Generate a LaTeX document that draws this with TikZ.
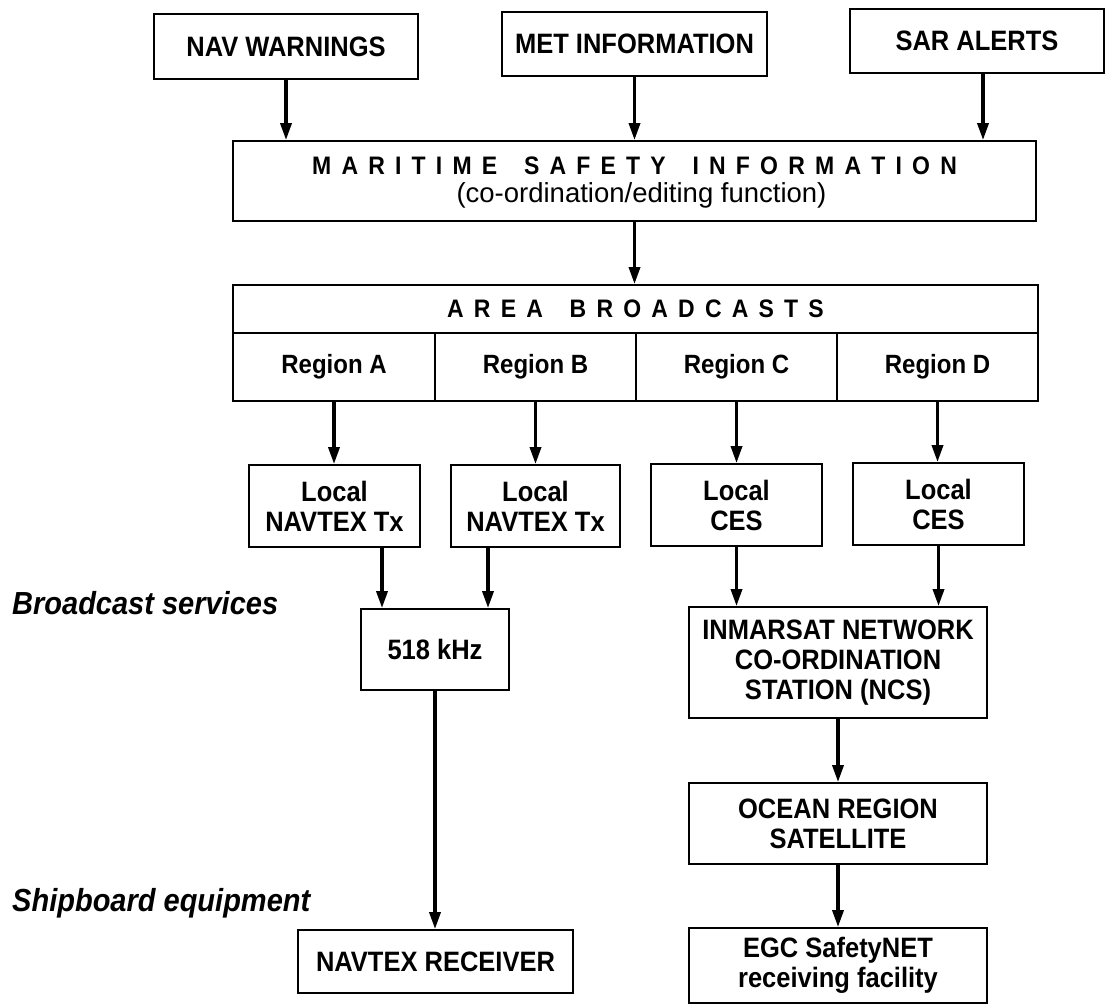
\documentclass[tikz,border=0pt]{standalone}
\usepackage{fontspec}
\usepackage{graphicx}
\setmainfont{Liberation Sans}
\usetikzlibrary{arrows.meta}

% letter-spaced titles: a fixed kern after every token
\ExplSyntaxOn
\NewDocumentCommand\spreadout{m}{\tl_map_inline:nn{#1}{##1\kern10.2pt}\unkern}
\ExplSyntaxOff

% slightly tall lettering
\newcommand\tx[1]{\scalebox{1}[1.1]{#1}}

\newcommand\boxfont{\fontsize{25.5}{30}\selectfont\bfseries}
\newcommand\regfont{\fontsize{24}{29}\selectfont\bfseries}
\newcommand\titlefont{\fontsize{23}{27}\selectfont\bfseries}
\newcommand\subfont{\fontsize{27.5}{31}\selectfont}
\newcommand\labfont{\fontsize{29}{34}\selectfont\bfseries\itshape}

\begin{document}
\begin{tikzpicture}[x=1pt,y=-1pt,
  box/.style={draw, line width=1.8pt, inner sep=0pt, align=center, font=\boxfont},
  arr/.style={line width=3.4pt, -{Triangle[length=17pt,width=11pt]}},
  sidelabel/.style={anchor=west, inner sep=0pt, font=\labfont}]
\useasboundingbox (0,0) rectangle (1107,1005);

% sources
\node[box, minimum width=264pt, minimum height=65pt] (nav) at (286,46.5) {\tx{NAV WARNINGS}};
\node[box, minimum width=265pt, minimum height=64pt] (met) at (634.5,44) {\tx{MET INFORMATION}};
\node[box, minimum width=254pt, minimum height=64pt] (sar) at (977,41) {\tx{SAR ALERTS}};

% co-ordination
\node[box, minimum width=803pt, minimum height=80pt] (msi) at (634.5,181) {};
\node[inner sep=0pt, font=\titlefont] (msititle) at ([yshift=15pt]msi.center)
  {\tx{\spreadout{MARITIME\ SAFETY\ INFORMATION}}};
\node[inner sep=0pt, font=\subfont] (msisub) at ([xshift=7pt,yshift=-14pt]msi.center)
  {(co-ordination/editing function)};

% area broadcasts and regions
\node[box, minimum width=805pt, minimum height=48pt, font=\titlefont] (ab) at (635.5,309)
  {\tx{\spreadout{AREA\ BROADCASTS}}};
\node[box, minimum width=202pt, minimum height=68pt, font=\regfont] (rega) at (334,367) {\tx{Region A}};
\node[box, minimum width=201pt, minimum height=68pt, font=\regfont] (regb) at (535.5,367) {\tx{Region B}};
\node[box, minimum width=201pt, minimum height=68pt, font=\regfont] (regc) at (736.5,367) {\tx{Region C}};
\node[box, minimum width=201pt, minimum height=68pt, font=\regfont] (regd) at (937.5,367) {\tx{Region D}};

% local stations
\node[box, minimum width=171pt, minimum height=82pt] (loca) at (334.5,506) {\tx{Local}\\\tx{NAVTEX Tx}};
\node[box, minimum width=169pt, minimum height=82pt] (locb) at (535.5,506) {\tx{Local}\\\tx{NAVTEX Tx}};
\node[box, minimum width=171pt, minimum height=82pt] (locc) at (736.5,505) {\tx{Local}\\\tx{CES}};
\node[box, minimum width=171pt, minimum height=82pt] (locd) at (938.5,504) {\tx{Local}\\\tx{CES}};

% broadcast paths
\node[box, minimum width=148pt, minimum height=81pt] (khz) at (435,649.5) {\tx{518 kHz}};
\node[box, minimum width=298pt, minimum height=111pt] (ncs) at (838,662.5)
  {\tx{INMARSAT NETWORK}\\\tx{CO-ORDINATION}\\\tx{STATION (NCS)}};
\node[box, minimum width=298pt, minimum height=81pt] (ocean) at (838,823.5)
  {\tx{OCEAN REGION}\\\tx{SATELLITE}};

% shipboard equipment
\node[box, minimum width=275pt, minimum height=63pt] (rx) at (435.5,961.5) {\tx{NAVTEX RECEIVER}};
\node[box, minimum width=298pt, minimum height=75pt] (egc) at (838,965.5)
  {\tx{EGC SafetyNET}\\\tx{receiving facility}};

% side labels
\node[sidelabel] (bcast) at (12,603) {\tx{Broadcast services}};
\node[sidelabel] (ship) at (12,903) {\tx{Shipboard equipment}};

% connectors
\draw[arr] (nav.south) -- (nav.south |- msi.north);
\draw[arr] (met.south) -- (met.south |- msi.north);
\draw[arr] ([xshift=6pt]sar.south) -- ([xshift=6pt]sar.south |- msi.north);
\draw[arr] (msi.south) -- (msi.south |- ab.north);
\draw[arr] (rega.south) -- (rega.south |- loca.north);
\draw[arr] (regb.south) -- (regb.south |- locb.north);
\draw[arr] (regc.south) -- (regc.south |- locc.north);
\draw[arr] (regd.south) -- (regd.south |- locd.north);
\draw[arr] ([xshift=47.5pt]loca.south) -- ([xshift=47.5pt]loca.south |- khz.north);
\draw[arr] ([xshift=-47.5pt]locb.south) -- ([xshift=-47.5pt]locb.south |- khz.north);
\draw[arr] (locc.south) -- (locc.south |- ncs.north);
\draw[arr] (locd.south) -- (locd.south |- ncs.north);
\draw[arr] (khz.south) -- (khz.south |- rx.north);
\draw[arr] (ncs.south) -- (ocean.north);
\draw[arr] (ocean.south) -- (egc.north);
\end{tikzpicture}
\end{document}
